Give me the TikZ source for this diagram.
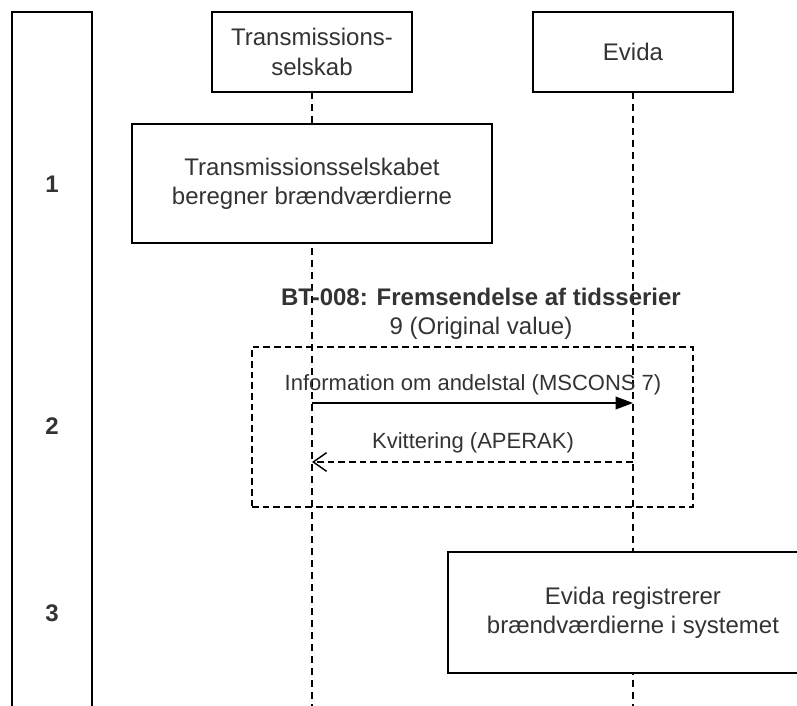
\documentclass[tikz,border=0pt]{standalone}
\usepackage{fontspec}
\setmainfont{Liberation Sans}
\usetikzlibrary{arrows.meta}
\definecolor{txt}{RGB}{51,51,51}
\begin{document}
\begin{tikzpicture}[x=0.75pt,y=-0.75pt,
  box/.style={draw=black,line width=1.2pt,fill=white,inner sep=0pt,outer sep=0pt,
    text=txt,align=center,font=\fontsize{18}{22}\selectfont},
  lbl/.style={text=txt,align=center,inner sep=0pt,font=\fontsize{18}{22}\selectfont},
  msg/.style={text=txt,align=center,inner sep=0pt,font=\fontsize{16.5}{20}\selectfont},
  lifeline/.style={draw=black,line width=1.1pt,dash pattern=on 5pt off 4pt},
  frame/.style={draw=black,line width=1.1pt,dash pattern=on 5pt off 3pt},
  lane/.style={draw=black,line width=1.5pt}]
\useasboundingbox (0,0) rectangle (797,706);
\clip (0,0) rectangle (797,706);
% lane
\draw[lane] (12,720) -- (12,12) -- (92,12) -- (92,720);
\node[lbl,font=\fontsize{18}{22}\selectfont\bfseries] (n1) at (52,184) {1};
\node[lbl,font=\fontsize{18}{22}\selectfont\bfseries] (n2) at (52,426) {2};
\node[lbl,font=\fontsize{18}{22}\selectfont\bfseries] (n3) at (52,613) {3};
% participants
\node[box,minimum width=150pt,minimum height=60pt] (ts) at (312,52) {Transmissions-\\selskab};
\node[box,minimum width=150pt,minimum height=60pt] (ev) at (633,52) {Evida};
\coordinate (tsend) at (312,720);
\coordinate (evend) at (633,720);
\draw[lifeline] (ts.south) -- (tsend);
\draw[lifeline] (ev.south) -- (evend);
% steps
\node[box,minimum width=270pt,minimum height=89.25pt] (s1) at (312,183.5) {Transmissionsselskabet\\beregner brændværdierne};
\node[box,minimum width=277.5pt,minimum height=90.75pt] (s3) at (633,612.5) {Evida registrerer\\brændværdierne i systemet};
% title
\node[lbl] (title) at (481,313.5) {\textbf{BT-008: Fremsendelse af tidsserier}\\9 (Original value)};
% frame
\node[frame,minimum width=330.75pt,minimum height=120pt,inner sep=0pt] (fr) at (472.5,427) {};
% messages
\coordinate (m1s) at (312,403);
\coordinate (m1e) at (633,403);
\coordinate (m2s) at (633,462);
\coordinate (m2e) at (312,462);
\draw[line width=1.1pt,-{Triangle[length=13pt,width=9.5pt]}] (m1s) -- (m1e);
\draw[line width=1.1pt,dash pattern=on 5pt off 3pt,-{Straight Barb[length=10pt,width=14pt,line width=1.1pt]}] (m2s) -- (m2e);
\node[msg] (l1) at (473,385) {Information om andelstal (MSCONS 7)};
\node[msg] (l2) at (473,443) {Kvittering (APERAK)};
\end{tikzpicture}
\end{document}
